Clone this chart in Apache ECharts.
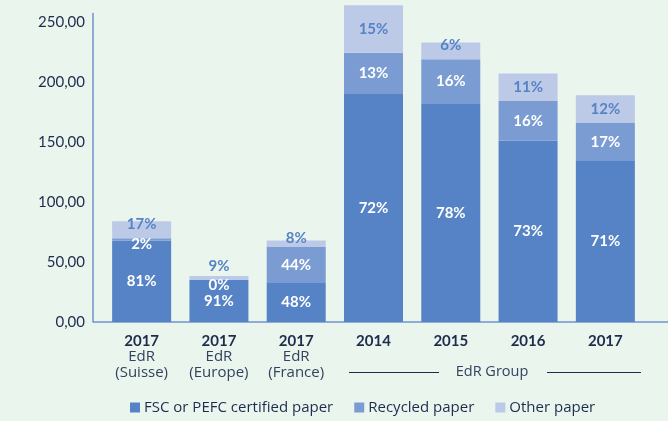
<!DOCTYPE html>
<html>
<head>
<meta charset="utf-8">
<style>
  html, body { margin: 0; padding: 0; background: #EAF5EE; }
  #chart-container { width: 668px; height: 421px; }
</style>
<script src="https://cdn.jsdelivr.net/npm/echarts@6/dist/echarts.min.js"></script>
</head>
<body>
<div id="chart-container"></div>
<script>
// data
const years = ['2017', '2017', '2017', '2014', '2015', '2016', '2017'];
const subLabels = ['EdR\n(Suisse)', 'EdR\n(Europe)', 'EdR\n(France)', '', '', '', ''];
const seriesNames = ['FSC or PEFC certified paper', 'Recycled paper', 'Other paper'];

const fscValues = [68.0, 34.9, 32.6, 190.1, 181.7, 151.1, 134.2];
const recycledValues = [1.7, 0, 29.9, 34.3, 37.3, 33.1, 32.1];
const otherValues = [14.3, 3.4, 5.4, 39.6, 14.0, 22.8, 22.7];

const fscPct = ['81%', '91%', '48%', '72%', '78%', '73%', '71%'];
const recycledPct = ['2%', '0%', '44%', '13%', '16%', '16%', '17%'];
const otherPct = ['17%', '9%', '8%', '15%', '6%', '11%', '12%'];

const yTicks = [0, 50, 100, 150, 200, 250];

const colFsc = '#5683C5';
const colRec = '#7B9CD2';
const colOther = '#BCC9E7';
const navy = '#1E2C4C';
const font = 'Lato';
const lightFont = 'Open Sans';

let dom = document.getElementById('chart-container');
let myChart = echarts.init(dom, null, { renderer: 'canvas' });

function withLabels(values, pcts, tweak) {
  return values.map((v, i) => {
    let item = { value: v, pct: pcts[i] };
    let off = tweak ? tweak(v) : null;
    if (off) item.label = { offset: off };
    return item;
  });
}

const labelBase = {
  show: true,
  position: 'inside',
  fontFamily: font,
  fontWeight: 'bold',
  fontSize: 15,
  formatter: p => p.data.pct
};

let option = {
  backgroundColor: '#EAF5EE',
  animation: false,
  grid: { left: 103, right: 24, top: 13.6, bottom: 99 },
  legend: {
    left: 125,
    top: 395,
    icon: 'rect',
    itemWidth: 10,
    itemHeight: 10,
    itemGap: 21,
    textStyle: { fontFamily: lightFont, fontSize: 15, color: navy, padding: [0, 0, 0, -1] },
    data: seriesNames
  },
  xAxis: {
    type: 'category',
    data: years,
    axisLine: { show: false },
    axisTick: { show: false },
    axisLabel: {
      margin: 11,
      interval: 0,
      formatter: (v, i) => subLabels[i] ? '{y|' + v + '}\n{s|' + subLabels[i].replace('\n', '}\n{s|') + '}' : '{y|' + v + '}',
      rich: {
        y: { fontFamily: font, fontWeight: 'bold', fontSize: 15, color: navy, lineHeight: 16 },
        s: { fontFamily: lightFont, fontSize: 15, color: '#33425F', lineHeight: 16 }
      }
    }
  },
  yAxis: {
    type: 'value',
    min: 0,
    max: 257,
    interval: 50,
    offset: 10,
    axisLine: { show: true, lineStyle: { color: '#6F93D0', width: 1.5 } },
    axisTick: { show: false },
    splitLine: { show: false },
    axisLabel: {
      showMaxLabel: false,
      margin: 8,
      fontFamily: font,
      fontSize: 15,
      color: navy,
      formatter: v => yTicks.indexOf(v) >= 0 ? v.toFixed(2).replace('.', ',') : ''
    }
  },
  graphic: [
    { type: 'line', shape: { x1: 93, y1: 322, x2: 668, y2: 322 }, style: { stroke: '#6F93D0', lineWidth: 1.5 }, z: 0 },
    { type: 'line', shape: { x1: 349, y1: 372.5, x2: 439, y2: 372.5 }, style: { stroke: navy, lineWidth: 1 } },
    { type: 'line', shape: { x1: 547, y1: 372.5, x2: 641, y2: 372.5 }, style: { stroke: navy, lineWidth: 1 } },
    {
      type: 'text', x: 492, y: 372,
      style: { text: 'EdR Group', fontFamily: lightFont, fontSize: 14.5, fill: '#33425F', align: 'center', verticalAlign: 'middle' }
    }
  ],
  series: [
    {
      name: seriesNames[0], type: 'bar', stack: 'paper', barWidth: 59, clip: false,
      itemStyle: { color: colFsc },
      label: Object.assign({}, labelBase, { color: '#fff' }),
      data: withLabels(fscValues, fscPct)
    },
    {
      name: seriesNames[1], type: 'bar', stack: 'paper', barWidth: 59, clip: false,
      itemStyle: { color: colRec },
      label: Object.assign({}, labelBase, { color: '#fff' }),
      data: withLabels(recycledValues, recycledPct, v => v < 5 ? [0, 5] : null)
    },
    {
      name: seriesNames[2], type: 'bar', stack: 'paper', barWidth: 59, clip: false,
      itemStyle: { color: colOther },
      label: Object.assign({}, labelBase, { color: colFsc }),
      data: withLabels(otherValues, otherPct, v => v < 4 ? [0, -12] : (v < 16 ? [0, -6] : null))
    }
  ]
};

if (option && typeof option === 'object') {
  myChart.setOption(option);
}

window.addEventListener('resize', myChart.resize);
</script>
</body>
</html>
